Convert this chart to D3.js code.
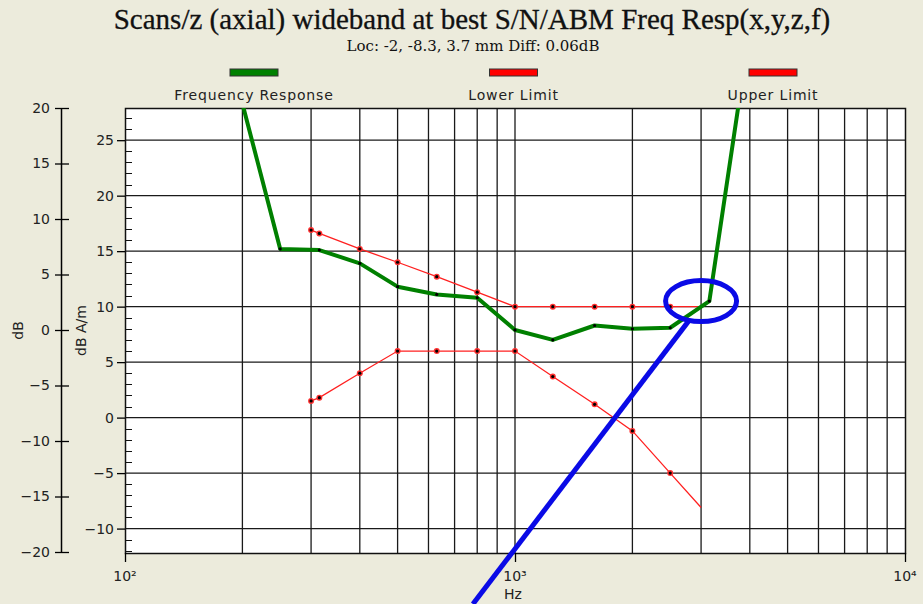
<!DOCTYPE html>
<html>
<head>
<meta charset="utf-8">
<script src="https://cdn.jsdelivr.net/npm/d3@7"></script>
<style>
body { margin: 0; background: #ecebdc; }
svg { display: block; }
text { font-family: "DejaVu Sans", sans-serif; fill: #222; }
</style>
</head>
<body>
<script>
// measured frequency response (Hz -> dB A/m)
var respFreq = [200, 250, 315, 400, 500, 630, 800, 1000, 1250, 1600, 2000, 2500, 3150, 4000];
var respVal  = [28.3, 15.2, 15.1, 13.9, 11.8, 11.1, 10.8, 7.9, 7.0, 8.3, 8.0, 8.1, 10.5, 35];

// limit mask
var limFreq  = [300, 315, 400, 500, 630, 800, 1000, 1250, 1600, 2000, 2500, 3000];
var upperVal = [16.9, 16.6, 15.2, 14.0, 12.7, 11.3, 10, 10, 10, 10, 10, 10];
var lowerVal = [1.5, 1.8, 4.0, 6, 6, 6, 6, 3.7, 1.2, -1.2, -5.0, -8.1];

var xTicks  = [100, 1000, 10000];
var xLabels = ["10\u00b2", "10\u00b3", "10\u2074"];
var yTicks  = [-10, -5, 0, 5, 10, 15, 20, 25];
var dbTicks = [-20, -15, -10, -5, 0, 5, 10, 15, 20];

var legendNames = ["Frequency Response", "Lower Limit", "Upper Limit"];

// hand drawn mark on the chart (data coords)
var noteCenter = [3000, 10.5];
var noteLine = [[2780, 8.65], [780, -16.8]];

var width = 923, height = 604;
var margin = {top: 108, right: 18, bottom: 51, left: 125};

var svg = d3.select("body").append("svg")
    .attr("width", width)
    .attr("height", height);

var x = d3.scaleLog()
    .domain([100, 10000])
    .range([margin.left, width - margin.right]);

var y = d3.scaleLinear()
    .domain([-12.2, 27.9])
    .range([height - margin.bottom, margin.top]);

var yDb = d3.scaleLinear()
    .domain([-20, 20])
    .range([height - margin.bottom - 1, margin.top]);

var x0 = x.range()[0], x1 = x.range()[1];
var y0 = y.range()[0], y1 = y.range()[1];

// title
svg.append("text")
    .attr("x", 472).attr("y", 29)
    .attr("text-anchor", "middle")
    .style("font-family", "'Liberation Serif', serif")
    .style("font-size", "29px")
    .style("fill", "#111")
    .style("stroke", "#111")
    .style("stroke-width", 0.3)
    .text("Scans/z (axial) wideband at best S/N/ABM Freq Resp(x,y,z,f)");

svg.append("text")
    .attr("x", 473).attr("y", 51)
    .attr("text-anchor", "middle")
    .style("font-family", "'DejaVu Serif', serif")
    .style("font-size", "15px")
    .style("fill", "#111")
    .text("Loc: -2, -8.3, 3.7 mm Diff: 0.06dB");

// legend
var legColors = ["#008000", "#ff0000", "#ff0000"];
var leg = svg.selectAll(".leg")
    .data(legendNames)
  .enter().append("g")
    .attr("class", "leg")
    .attr("transform", function(d, i) { return "translate(" + (254 + i * 259.5) + ",0)"; });

leg.append("rect")
    .attr("x", -24).attr("y", 69)
    .attr("width", 48).attr("height", 7)
    .style("fill", function(d, i) { return legColors[i]; })
    .style("stroke", "#333");

leg.append("text")
    .attr("y", 100)
    .attr("text-anchor", "middle")
    .style("font-size", "14px")
    .style("letter-spacing", "0.85px")
    .text(function(d) { return d; });

// plot area
svg.append("rect")
    .attr("x", x0).attr("y", y1)
    .attr("width", x1 - x0).attr("height", y0 - y1)
    .style("fill", "#fff");

svg.append("clipPath").attr("id", "clip")
  .append("rect")
    .attr("x", x0).attr("y", y1)
    .attr("width", x1 - x0).attr("height", y0 - y1);

// vertical grid, 1..9 per decade
var vgrid = [];
[100, 1000].forEach(function(dec) {
  for (var k = 2; k <= 9; k++) vgrid.push(dec * k);
});
vgrid.push(1000);

svg.append("g").selectAll("line")
    .data(vgrid)
  .enter().append("line")
    .attr("x1", function(d) { return x(d); })
    .attr("x2", function(d) { return x(d); })
    .attr("y1", y1).attr("y2", y0)
    .style("stroke", "#1a1a1a")
    .style("stroke-width", 1.3);

svg.append("g").selectAll("line")
    .data(yTicks)
  .enter().append("line")
    .attr("x1", x0).attr("x2", x1)
    .attr("y1", function(d) { return y(d); })
    .attr("y2", function(d) { return y(d); })
    .style("stroke", "#1a1a1a")
    .style("stroke-width", 1.3);

// frame
svg.append("rect")
    .attr("x", x0 + 0.5).attr("y", y1 + 0.5)
    .attr("width", x1 - x0).attr("height", y0 - y1)
    .style("fill", "none")
    .style("stroke", "#111")
    .style("stroke-width", 1.5);

// inner y axis (dB A/m)
var yAxis = d3.axisLeft(y)
    .tickValues(yTicks)
    .tickSize(8)
    .tickPadding(3);
var gy = svg.append("g")
    .attr("transform", "translate(" + x0 + ",0)")
    .call(yAxis);
gy.select(".domain").remove();
gy.selectAll("text").style("font-size", "14px").style("fill", "#222");
gy.selectAll(".tick line").style("stroke-width", 1.3);

var minor = d3.range(-12, 28).filter(function(v) { return v % 5 != 0; });
svg.append("g").selectAll("line")
    .data(minor)
  .enter().append("line")
    .attr("x1", x0).attr("x2", x0 + 7)
    .attr("y1", function(d) { return Math.round(y(d)) + 0.5; })
    .attr("y2", function(d) { return Math.round(y(d)) + 0.5; })
    .style("stroke", "#111");

// outer y axis (dB)
var dbAxis = d3.axisLeft(yDb)
    .tickValues(dbTicks)
    .tickSizeInner(7)
    .tickSizeOuter(0)
    .tickPadding(4);
var gdb = svg.append("g")
    .attr("transform", "translate(61,0)")
    .call(dbAxis);
gdb.selectAll("text").style("font-size", "14px").style("fill", "#222");
gdb.selectAll(".tick line").attr("x2", 8).attr("x1", -6).style("stroke-width", 1.3);
gdb.select(".domain").style("stroke-width", 1.5);

// x axis
var gx = svg.append("g")
    .attr("transform", "translate(0," + y0 + ")")
    .call(d3.axisBottom(x).tickValues(xTicks).tickSize(9).tickFormat(""));
gx.select(".domain").remove();
gx.selectAll(".tick line").style("stroke-width", 1.3);

svg.append("g").selectAll("text")
    .data(xTicks)
  .enter().append("text")
    .attr("x", function(d) { return x(d); })
    .attr("y", 581)
    .attr("text-anchor", "middle")
    .style("font-size", "14px")
    .text(function(d, i) { return xLabels[i]; });

// axis titles
svg.append("text")
    .attr("x", 513).attr("y", 599)
    .attr("text-anchor", "middle")
    .style("font-size", "14px")
    .text("Hz");

svg.append("text")
    .attr("transform", "translate(23," + ((y0 + y1) / 2) + ") rotate(-90)")
    .attr("text-anchor", "middle")
    .style("font-size", "14px")
    .text("dB");

svg.append("text")
    .attr("transform", "translate(86," + ((y0 + y1) / 2) + ") rotate(-90)")
    .attr("text-anchor", "middle")
    .style("font-size", "14px")
    .text("dB A/m");

// series
var plot = svg.append("g").attr("clip-path", "url(#clip)");

var line = d3.line()
    .x(function(d) { return x(d[0]); })
    .y(function(d) { return y(d[1]); });

var resp = d3.zip(respFreq, respVal);
var upper = d3.zip(limFreq, upperVal);
var lower = d3.zip(limFreq, lowerVal);

[upper, lower].forEach(function(s) {
  plot.append("path")
      .datum(s)
      .attr("d", line)
      .style("fill", "none")
      .style("stroke", "#ff2020")
      .style("stroke-width", 1.3);
  var pts = plot.selectAll(null)
      .data(s.slice(0, -1))
    .enter().append("g")
      .attr("transform", function(d) { return "translate(" + x(d[0]) + "," + y(d[1]) + ")"; });
  pts.append("circle").attr("r", 3).style("fill", "#ff3030");
  pts.append("circle").attr("r", 1.6).style("fill", "#000");
});

plot.append("path")
    .datum(resp)
    .attr("d", line)
    .style("fill", "none")
    .style("stroke", "#008000")
    .style("stroke-width", 4)
    .style("stroke-linejoin", "round");

plot.selectAll(".rdot")
    .data(resp)
  .enter().append("circle")
    .attr("class", "rdot")
    .attr("cx", function(d) { return x(d[0]); })
    .attr("cy", function(d) { return y(d[1]); })
    .attr("r", 1.6)
    .style("fill", "#000");

// blue annotation
svg.append("ellipse")
    .attr("cx", x(noteCenter[0]))
    .attr("cy", y(noteCenter[1]))
    .attr("rx", 35.5).attr("ry", 20.5)
    .style("fill", "none")
    .style("stroke", "#0a0ae6")
    .style("stroke-width", 5);

svg.append("path")
    .datum(noteLine)
    .attr("d", line)
    .style("stroke", "#0a0ae6")
    .style("stroke-width", 5);
</script>
</body>
</html>
